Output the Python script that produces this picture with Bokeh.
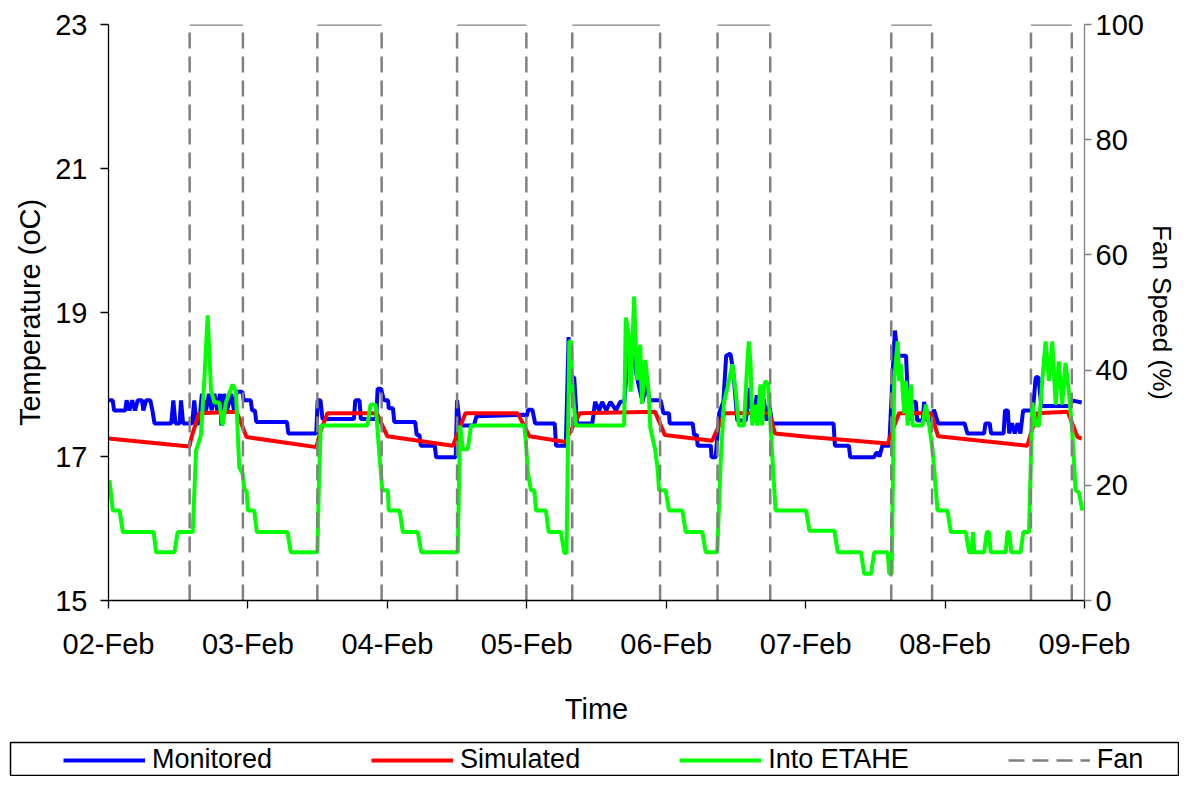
import numpy as np
from bokeh.plotting import figure
from bokeh.models import (LinearAxis, Range1d, Legend, LegendItem, FixedTicker,
                          ColumnDataSource)
from bokeh.embed import file_html
from bokeh.resources import INLINE

# ---------------- data ----------------
day_ticks = [0, 1, 2, 3, 4, 5, 6, 7]
day_labels = ["02-Feb", "03-Feb", "04-Feb", "05-Feb", "06-Feb", "07-Feb", "08-Feb", "09-Feb"]
temp_ticks = [15, 17, 19, 21, 23]
fan_ticks = [0, 20, 40, 60, 80, 100]

# (days since 02-Feb 00:00, degC)
monitored = [
    (0.00, 17.78), (0.03, 17.78), (0.04, 17.64), (0.12, 17.64), (0.13, 17.78), (0.15, 17.64),
    (0.17, 17.78), (0.19, 17.64), (0.21, 17.78), (0.24, 17.78), (0.25, 17.64), (0.27, 17.78),
    (0.30, 17.78), (0.315, 17.64), (0.33, 17.46), (0.45, 17.46), (0.465, 17.78), (0.48, 17.46),
    (0.51, 17.46), (0.52, 17.78), (0.535, 17.46), (0.57, 17.46), (0.60, 17.46), (0.615, 17.78),
    (0.63, 17.46), (0.65, 17.46), (0.67, 17.87), (0.70, 17.64), (0.72, 17.87), (0.74, 17.64),
    (0.76, 17.87), (0.78, 17.64), (0.80, 17.87), (0.81, 17.43), (0.83, 17.87), (0.85, 17.64),
    (0.88, 17.87), (0.90, 17.64), (0.92, 17.90), (0.96, 17.90), (0.97, 17.78), (1.02, 17.78),
    (1.03, 17.64), (1.05, 17.64), (1.06, 17.48), (1.28, 17.48), (1.29, 17.32), (1.49, 17.32),
    (1.50, 17.78), (1.52, 17.78), (1.535, 17.52), (1.76, 17.52), (1.77, 17.78), (1.80, 17.78),
    (1.81, 17.52), (1.92, 17.52), (1.93, 17.94), (1.955, 17.94), (1.975, 17.78), (2.005, 17.78),
    (2.01, 17.67), (2.04, 17.67), (2.05, 17.48), (2.20, 17.48), (2.21, 17.30), (2.23, 17.30),
    (2.24, 17.15), (2.34, 17.15), (2.35, 16.99), (2.49, 16.99), (2.50, 17.78), (2.52, 17.43),
    (2.62, 17.43), (2.64, 17.56), (2.98, 17.58), (3.00, 17.56), (3.01, 17.65), (3.04, 17.65),
    (3.06, 17.46), (3.20, 17.46), (3.21, 17.15), (3.28, 17.15), (3.30, 18.66), (3.31, 18.10),
    (3.34, 18.10), (3.36, 17.46), (3.47, 17.46), (3.49, 17.76), (3.52, 17.64), (3.54, 17.76),
    (3.57, 17.64), (3.60, 17.76), (3.64, 17.64), (3.67, 17.76), (3.70, 17.76), (3.72, 18.30),
    (3.75, 18.60), (3.79, 18.10), (3.83, 17.76), (3.86, 18.00), (3.88, 17.78), (3.96, 17.78),
    (3.98, 17.60), (4.02, 17.60), (4.025, 17.46), (4.19, 17.46), (4.20, 17.30), (4.22, 17.30),
    (4.225, 17.15), (4.32, 17.15), (4.325, 16.99), (4.355, 16.99), (4.38, 17.60), (4.41, 17.76),
    (4.43, 18.40), (4.46, 18.43), (4.48, 18.20), (4.51, 17.50), (4.57, 17.50), (4.60, 17.95),
    (4.62, 17.50), (4.65, 17.85), (4.67, 17.50), (4.70, 17.80), (4.72, 17.50), (4.74, 17.70),
    (4.76, 17.46), (5.20, 17.46), (5.21, 17.15), (5.31, 17.15), (5.32, 16.99), (5.49, 16.99),
    (5.51, 17.06), (5.53, 17.00), (5.55, 17.15), (5.60, 17.15), (5.62, 18.00), (5.64, 18.75),
    (5.66, 18.40), (5.72, 18.40), (5.74, 17.50), (5.76, 17.76), (5.79, 17.76), (5.80, 17.50),
    (5.84, 17.50), (5.85, 17.76), (5.87, 17.50), (5.90, 17.50), (5.92, 17.65), (5.95, 17.46),
    (6.14, 17.46), (6.16, 17.32), (6.28, 17.32), (6.29, 17.46), (6.32, 17.46), (6.33, 17.32),
    (6.42, 17.32), (6.43, 17.64), (6.45, 17.64), (6.46, 17.32), (6.48, 17.46), (6.50, 17.32),
    (6.52, 17.46), (6.54, 17.32), (6.56, 17.64), (6.63, 17.64), (6.65, 18.10), (6.67, 18.10),
    (6.69, 17.70), (6.90, 17.70), (6.91, 17.78), (6.98, 17.75),
]

simulated = [
    (0.00, 17.25), (0.58, 17.14), (0.60, 17.30), (0.65, 17.60), (0.92, 17.62), (0.99, 17.27),
    (1.49, 17.13), (1.52, 17.35), (1.57, 17.60), (1.925, 17.60), (2.00, 17.28), (2.47, 17.15),
    (2.50, 17.30), (2.56, 17.60), (2.935, 17.60), (3.02, 17.28), (3.28, 17.20), (3.30, 17.30),
    (3.38, 17.60), (3.92, 17.62), (3.99, 17.30), (4.33, 17.22), (4.36, 17.35), (4.42, 17.60),
    (4.74, 17.60), (4.78, 17.32), (5.03, 17.27), (5.59, 17.18), (5.62, 17.35), (5.67, 17.60),
    (5.90, 17.60), (5.95, 17.28), (6.59, 17.15), (6.62, 17.35), (6.66, 17.60), (6.88, 17.62),
    (6.95, 17.27), (6.98, 17.25),
]

into_etahe = [
    (0.007, 16.67), (0.031, 16.25), (0.079, 16.25), (0.103, 15.95), (0.324, 15.95), (0.341, 15.67),
    (0.473, 15.67), (0.496, 15.95), (0.604, 15.95), (0.628, 17.08), (0.663, 17.30), (0.687, 18.05),
    (0.711, 18.96), (0.735, 17.92), (0.759, 17.75), (0.795, 17.75), (0.818, 17.43), (0.842, 17.75),
    (0.890, 18.00), (0.914, 17.90), (0.938, 16.85), (0.962, 16.76), (0.975, 16.53), (0.990, 16.53),
    (1.000, 16.25), (1.045, 16.25), (1.064, 15.95), (1.284, 15.95), (1.307, 15.67), (1.498, 15.67),
    (1.510, 16.67), (1.522, 17.43), (1.856, 17.43), (1.880, 17.72), (1.916, 17.72), (1.940, 17.10),
    (1.964, 16.53), (2.004, 16.53), (2.010, 16.25), (2.088, 16.25), (2.111, 15.95), (2.219, 15.95),
    (2.243, 15.67), (2.505, 15.67), (2.522, 17.43), (2.541, 17.10), (2.577, 17.10), (2.600, 17.43),
    (2.982, 17.43), (2.994, 17.20), (3.006, 16.80), (3.030, 16.53), (3.054, 16.53), (3.066, 16.25),
    (3.137, 16.25), (3.157, 15.95), (3.245, 15.95), (3.269, 15.66), (3.285, 15.66), (3.305, 18.60),
    (3.317, 18.60), (3.328, 17.90), (3.352, 17.43), (3.698, 17.43), (3.710, 18.93), (3.730, 18.70),
    (3.745, 17.90), (3.770, 19.22), (3.790, 18.06), (3.814, 18.55), (3.826, 17.73), (3.850, 18.34),
    (3.874, 17.90), (3.886, 17.40), (3.920, 17.10), (3.937, 16.85), (3.949, 16.53), (3.996, 16.53),
    (4.020, 16.25), (4.116, 16.25), (4.140, 15.95), (4.259, 15.95), (4.283, 15.67), (4.366, 15.67),
    (4.390, 16.90), (4.414, 17.75), (4.450, 18.05), (4.474, 18.28), (4.497, 17.92), (4.521, 17.43),
    (4.557, 17.43), (4.581, 18.28), (4.593, 18.60), (4.605, 18.28), (4.617, 17.43), (4.641, 17.72),
    (4.653, 17.43), (4.676, 18.00), (4.688, 17.43), (4.700, 17.95), (4.712, 18.05), (4.731, 18.00),
    (4.748, 17.43), (4.784, 16.25), (5.003, 16.25), (5.027, 15.97), (5.206, 15.97), (5.230, 15.67),
    (5.397, 15.67), (5.420, 15.37), (5.469, 15.37), (5.492, 15.67), (5.588, 15.67), (5.600, 15.37),
    (5.617, 15.37), (5.635, 18.05), (5.660, 18.60), (5.671, 18.05), (5.683, 18.28), (5.707, 17.60),
    (5.719, 18.05), (5.731, 17.43), (5.755, 18.00), (5.767, 17.43), (5.838, 17.43), (5.862, 17.72),
    (5.886, 17.43), (5.910, 17.10), (5.946, 16.25), (6.017, 16.25), (6.041, 15.95), (6.149, 15.95),
    (6.172, 15.67), (6.190, 15.67), (6.200, 15.95), (6.210, 15.67), (6.280, 15.67), (6.300, 15.95),
    (6.315, 15.95), (6.327, 15.67), (6.435, 15.67), (6.447, 15.95), (6.460, 15.95), (6.475, 15.67),
    (6.542, 15.67), (6.561, 15.95), (6.602, 15.95), (6.626, 17.75), (6.650, 17.43), (6.673, 17.43),
    (6.697, 18.05), (6.721, 18.60), (6.745, 18.05), (6.769, 18.60), (6.793, 17.72), (6.816, 18.32),
    (6.840, 17.72), (6.864, 18.30), (6.888, 17.90), (6.912, 17.35), (6.936, 16.53), (6.960, 16.50),
    (6.984, 16.25),
]

# fan switching times (days) and speed when on (%)
fan_on = [0.582, 1.498, 2.500, 3.326, 4.368, 5.614, 6.616]
fan_off = [0.964, 1.959, 2.997, 3.956, 4.746, 5.907, 6.909]
fan_high = 100
fan_low = 0

series_names = ["Monitored", "Simulated", "Into ETAHE", "Fan"]

# ---------------- styles ----------------
FONT = "Liberation Sans"
FS = "29px"
LFS = "27px"
C_MON, C_SIM, C_ETA, C_FAN = "#0000FF", "#FF0000", "#00FF00", "#808080"
FAN_DASH = "16 8"

W = 1179
H_MAIN = 741
H_LEG = 35

# ---------------- main chart ----------------
p = figure(width=W, height=H_MAIN, x_range=Range1d(0, 7), y_range=Range1d(15, 23),
           output_backend="svg", toolbar_location=None,
           min_border_left=108, min_border_right=93, min_border_top=24, min_border_bottom=141,
           x_axis_label="Time", y_axis_label="Temperature (oC)")
p.outline_line_color = None
p.xgrid.visible = False
p.ygrid.visible = False
p.background_fill_color = "white"
p.border_fill_color = "white"
p.extra_y_ranges = {"fan": Range1d(0, 100)}

rax = LinearAxis(y_range_name="fan", axis_label="Fan Speed (%)")
p.add_layout(rax, "right")

xax = p.xaxis[0]
yax = p.yaxis[0]
xax.ticker = FixedTicker(ticks=day_ticks)
xax.major_label_overrides = {t: l for t, l in zip(day_ticks, day_labels)}
yax.ticker = FixedTicker(ticks=temp_ticks)
rax.ticker = FixedTicker(ticks=fan_ticks)

for ax in (xax, yax, rax):
    ax.major_label_text_font = FONT
    ax.major_label_text_font_size = FS
    ax.major_label_text_color = "black"
    ax.axis_label_text_font = FONT
    ax.axis_label_text_font_size = FS
    ax.axis_label_text_font_style = "normal"
    ax.axis_label_text_color = "black"
    ax.major_tick_out = 8
    ax.major_tick_in = 0
    ax.minor_tick_out = 0
    ax.minor_tick_in = 0
    ax.major_tick_line_width = 1.3
    ax.axis_line_width = 1.3

xax.axis_line_color = "black"
xax.major_tick_line_color = "black"
yax.axis_line_color = "black"
yax.major_tick_line_color = "black"
rax.axis_line_color = C_FAN
rax.major_tick_line_color = C_FAN
rax.axis_label_text_font_size = "26px"
rax.major_tick_out = 7

xax.major_label_standoff = 19
xax.axis_label_standoff = 30
yax.major_label_standoff = 13
yax.axis_label_standoff = 6
rax.major_label_standoff = 4
rax.axis_label_standoff = 0

src_m = ColumnDataSource(dict(t=[a for a, b in monitored], v=[b for a, b in monitored]))
src_s = ColumnDataSource(dict(t=[a for a, b in simulated], v=[b for a, b in simulated]))
src_e = ColumnDataSource(dict(t=[a for a, b in into_etahe], v=[b for a, b in into_etahe]))

p.line("t", "v", source=src_m, line_color=C_MON, line_width=4)
p.line("t", "v", source=src_s, line_color=C_SIM, line_width=4)
p.line("t", "v", source=src_e, line_color=C_ETA, line_width=4)

n = len(fan_on)
p.segment(x0=fan_on, y0=[fan_high] * n, x1=fan_off, y1=[fan_high] * n,
          y_range_name="fan", line_color=C_FAN, line_width=2.5)
sw = fan_on + fan_off
p.segment(x0=sw, y0=[fan_low] * len(sw), x1=sw, y1=[fan_high] * len(sw),
          y_range_name="fan", line_color=C_FAN, line_width=2.5, line_dash=FAN_DASH)

# ---------------- legend strip (boxed), separate root so it is not frame-aligned ----------------
q = figure(width=W, height=H_LEG, x_range=Range1d(0, 1), y_range=Range1d(0, 1),
           output_backend="svg", toolbar_location=None,
           x_axis_type=None, y_axis_type=None,
           min_border_left=10, min_border_right=1, min_border_top=1, min_border_bottom=1)
q.xgrid.visible = False
q.ygrid.visible = False
q.outline_line_color = "black"
q.outline_line_width = 1.5
q.background_fill_color = "white"
q.border_fill_color = "white"

nan_src = ColumnDataSource(dict(x=np.array([np.nan]), y=np.array([np.nan])))
lm = q.line("x", "y", source=nan_src, line_color=C_MON, line_width=4)
ls = q.line("x", "y", source=nan_src, line_color=C_SIM, line_width=4)
le = q.line("x", "y", source=nan_src, line_color=C_ETA, line_width=4)
lf = q.line("x", "y", source=nan_src, line_color=C_FAN, line_width=2.5, line_dash=FAN_DASH)

legend = Legend(items=[LegendItem(label=nm, renderers=[r])
                       for nm, r in zip(series_names, [lm, ls, le, lf])],
                location=(53, 0), orientation="horizontal", spacing=99, padding=0,
                margin=0, glyph_width=82, glyph_height=30, label_standoff=7,
                label_text_font=FONT, label_text_font_size=LFS, label_text_color="black",
                border_line_alpha=0, background_fill_alpha=0)
q.add_layout(legend)

open("out.html", "w").write(file_html([p, q], INLINE))
